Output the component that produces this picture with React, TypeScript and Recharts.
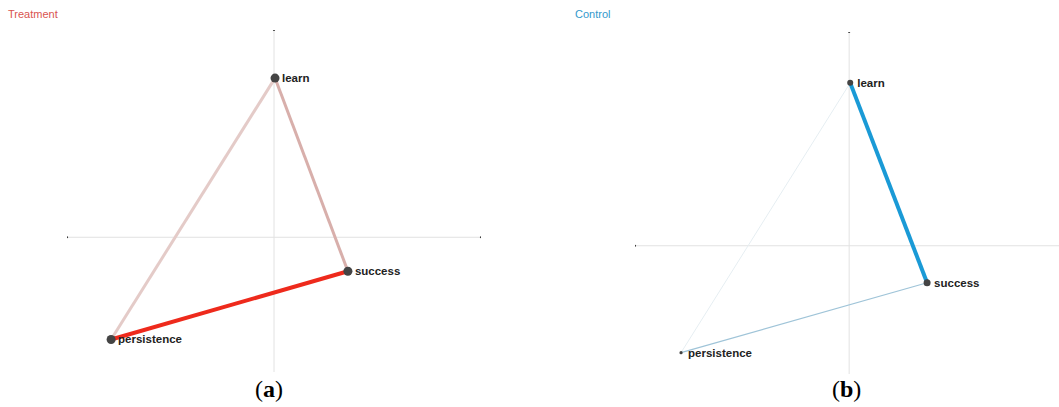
import React from "react";
import { Scatter, ScatterChart, XAxis, YAxis } from "recharts";

// node names shared by both panels
const nodes = ["learn", "success", "persistence"];

// embedding coordinates
const treatmentX = [0.005, 0.357, -0.787];
const treatmentY = [0.768, -0.164, -0.493];
const controlX = [0.005, 0.364, -0.785];
const controlY = [0.762, -0.173, -0.5];

// node sizes
const treatmentSize = [4.5, 4.5, 4.5];
const controlSize = [3, 3.5, 1.6];

// edges: [from, to]
const edges = [
  [0, 2],
  [0, 1],
  [2, 1],
];

// edge look per panel, same order as edges
const treatmentEdgeStyle = [
  { stroke: "#e4cbc8", strokeWidth: 3 },
  { stroke: "#d8afab", strokeWidth: 3 },
  { stroke: "#ee2a1c", strokeWidth: 4 },
];
const controlEdgeStyle = [
  { stroke: "#e6eef2", strokeWidth: 1 },
  { stroke: "#1a9ad6", strokeWidth: 4 },
  { stroke: "#9fc4d8", strokeWidth: 1.2 },
];

type Pt = { x: number; y: number; name?: string; r?: number };

function buildNodes(xs: number[], ys: number[], rs: number[]): Pt[] {
  return nodes.map((name, i) => ({ x: xs[i], y: ys[i], name, r: rs[i] }));
}

const NodeShape = (props: any) => {
  const { cx, cy, payload } = props;
  return (
    <g>
      <circle cx={cx} cy={cy} r={payload.r} fill="#444" />
      <text
        x={cx + 7}
        y={cy + 4}
        fontSize={11.5}
        fontWeight="bold"
        fontFamily="Liberation Sans, Arial, sans-serif"
        fill="#222"
      >
        {payload.name}
      </text>
    </g>
  );
};

const Empty = () => <g />;
const AxisEnd = (props: any) => <circle cx={props.cx} cy={props.cy} r={1.1} fill="#333" />;

function Panel({ xs, ys, rs, edgeStyle, width, height, margin, xDomain, yDomain, hAxis }: any) {
  const pts = buildNodes(xs, ys, rs);
  return (
    <ScatterChart width={width} height={height} margin={margin}>
      <XAxis type="number" dataKey="x" domain={xDomain} hide allowDataOverflow />
      <YAxis type="number" dataKey="y" domain={yDomain} hide allowDataOverflow />
      <Scatter
        data={[{ x: hAxis[0], y: 0 }, { x: hAxis[1], y: 0 }]}
        line={{ stroke: "#e2e2e2", strokeWidth: 1 }}
        shape={AxisEnd}
        isAnimationActive={false}
      />
      <Scatter
        data={[{ x: 0, y: 1 }, { x: 0, y: yDomain[0] }]}
        line={{ stroke: "#e2e2e2", strokeWidth: 1 }}
        shape={(p: any) => (p.payload.y === 1 ? <AxisEnd {...p} /> : <g />)}
        isAnimationActive={false}
      />
      {edges.map(([a, b], i) => (
        <Scatter
          key={i}
          data={[pts[a], pts[b]]}
          line={edgeStyle[i]}
          shape={Empty}
          isAnimationActive={false}
        />
      ))}
      <Scatter data={pts} shape={NodeShape} isAnimationActive={false} />
    </ScatterChart>
  );
}

export default function App() {
  return (
    <div
      style={{
        position: "absolute",
        left: 0,
        top: 0,
        width: 1059,
        height: 407,
        background: "#fff",
        overflow: "hidden",
      }}
    >
      <div
        style={{
          position: "absolute",
          left: 8,
          top: 8,
          fontFamily: "Liberation Sans, Arial, sans-serif",
          fontSize: 11,
          color: "#d9534f",
        }}
      >
        Treatment
      </div>
      <div
        style={{
          position: "absolute",
          left: 575,
          top: 8,
          fontFamily: "Liberation Sans, Arial, sans-serif",
          fontSize: 11,
          color: "#3399cc",
        }}
      >
        Control
      </div>
      <div style={{ position: "absolute", left: 0, top: 0 }}>
        <Panel
          xs={treatmentX}
          ys={treatmentY}
          rs={treatmentSize}
          edgeStyle={treatmentEdgeStyle}
          width={530}
          height={407}
          margin={{ top: 30, right: 49, bottom: 35, left: 67 }}
          xDomain={[-1, 1]}
          yDomain={[-0.65, 1]}
          hAxis={[-1, 1]}
        />
      </div>
      <div style={{ position: "absolute", left: 530, top: 0 }}>
        <Panel
          xs={controlX}
          ys={controlY}
          rs={controlSize}
          edgeStyle={controlEdgeStyle}
          width={529}
          height={407}
          margin={{ top: 32, right: 0, bottom: 33, left: 105 }}
          xDomain={[-1, 0.98]}
          yDomain={[-0.6, 1]}
          hAxis={[-1, 1.2]}
        />
      </div>
      {[
        ["a", 255],
        ["b", 832],
      ].map(([l, x]) => (
        <div
          key={l as string}
          style={{
            position: "absolute",
            left: x as number,
            top: 376,
            fontFamily: "Liberation Serif, Times New Roman, serif",
            fontSize: 24,
            color: "#000",
          }}
        >
          (<b>{l}</b>)
        </div>
      ))}
    </div>
  );
}
